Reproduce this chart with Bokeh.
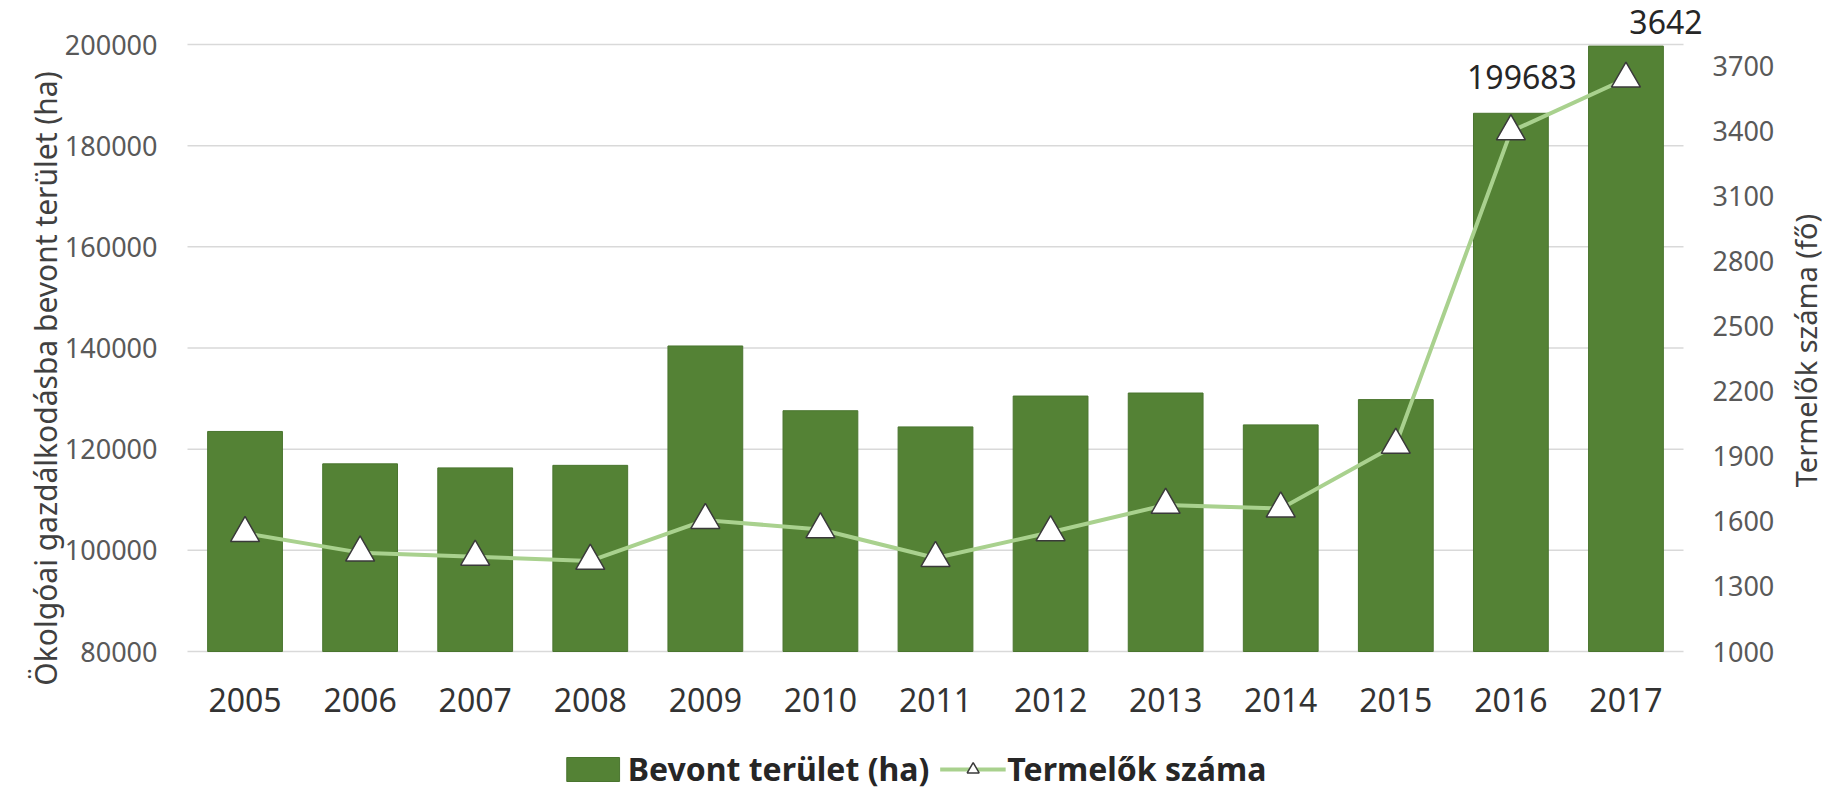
import math
from bokeh.plotting import figure
from bokeh.models import (ColumnDataSource, Range1d, LinearAxis, FixedTicker,
                          BasicTickFormatter, Legend, LegendItem, LabelSet, Label)
from bokeh.core.properties import value
from bokeh.embed import file_html
from bokeh.resources import INLINE

# ---- data ----
years = ["2005", "2006", "2007", "2008", "2009", "2010", "2011",
         "2012", "2013", "2014", "2015", "2016", "2017"]
area_ha = [123500, 117100, 116300, 116800, 140400, 127600, 124400,
           130500, 131100, 124800, 129800, 186400, 199683]
producers = [1546, 1456, 1437, 1418, 1606, 1563, 1431,
             1550, 1676, 1659, 1953, 3399, 3642]
left_ticks = [80000, 100000, 120000, 140000, 160000, 180000, 200000]
right_ticks = [1000, 1300, 1600, 1900, 2200, 2500, 2800, 3100, 3400, 3700]
left_axis_span = (80000, 200000)
right_axis_span = (1000, 3800)

left_title = "Ökolgóai gazdálkodásba bevont terület (ha)"
right_title = "Termelők száma (fő)"
bar_name = "Bevont terület (ha)"
line_name = "Termelők száma"

# ---- layout (page pixels; the canvas fills the page from its top-left) ----
W, H = 1826, 790
DATA_L, DATA_R, DATA_T, DATA_B = 187, 1683, 44, 651   # plotting area

n = len(years)
ux = (DATA_R - DATA_L) / n


def px_x(px):
    return -0.5 + (px - DATA_L) / ux


def px_y(py, span):
    lo, hi = span
    return lo + (DATA_B - py) * (hi - lo) / (DATA_B - DATA_T)


BAR = "#548235"
LINE = "#A9D18E"
FONT = "Noto Sans"

p = figure(title=None, width=W, height=H,
           x_range=Range1d(px_x(0), px_x(W)),
           y_range=Range1d(px_y(H, left_axis_span), px_y(0, left_axis_span)),
           output_backend="svg", toolbar_location=None,
           min_border=0, min_border_left=0, min_border_right=0,
           min_border_top=0, min_border_bottom=0)
p.extra_y_ranges = {"right": Range1d(px_y(H, right_axis_span),
                                     px_y(0, right_axis_span))}
p.outline_line_color = None
p.background_fill_color = "white"
p.xgrid.grid_line_color = None
p.ygrid.grid_line_color = None

idx = list(range(n))
src = ColumnDataSource(dict(i=idx, area=area_ha, prod=producers))

# horizontal gridlines across the plotting area only
p.segment(x0=-0.5, x1=n - 0.5, y0=left_ticks, y1=left_ticks,
          line_color="#D9D9D9", line_width=1.5, level="underlay")

bars = p.vbar(x="i", top="area", bottom=left_axis_span[0], width=0.65,
              source=src, fill_color=BAR, line_color="#4a752f", line_width=1)
line = p.line(x="i", y="prod", y_range_name="right", source=src,
              line_color=LINE, line_width=4)
pts = p.scatter(x="i", y="prod", y_range_name="right", source=src,
                marker="triangle", size=29, fill_color="white",
                line_color="#3a3a3a", line_width=1.5)

# leader line of the last producers label
r_per_px = (right_axis_span[1] - right_axis_span[0]) / (DATA_B - DATA_T)
lead = ColumnDataSource(dict(x0=idx[-1:], y0=producers[-1:],
                             x1=[idx[-1] + 37 / ux],
                             y1=[producers[-1] + 31 * r_per_px]))
p.segment(x0="x0", y0="y0", x1="x1", y1="y1", source=lead,
          line_color="#c9d9bd", line_width=1.2)

# left axis
yl = p.yaxis[0]
yl.ticker = FixedTicker(ticks=left_ticks)
yl.formatter = BasicTickFormatter(use_scientific=False)
yl.fixed_location = -0.5
yl.major_label_standoff = 24
yl.major_label_text_font = FONT
yl.major_label_text_font_size = "27px"
yl.major_label_text_color = "#595959"

# right axis
yr = LinearAxis(y_range_name="right", ticker=FixedTicker(ticks=right_ticks),
                formatter=BasicTickFormatter(use_scientific=False))
yr.fixed_location = n - 0.5
yr.major_label_standoff = 23
yr.major_label_text_font = FONT
yr.major_label_text_font_size = "27px"
yr.major_label_text_color = "#595959"
p.add_layout(yr, "right")

# x axis
xa = p.xaxis[0]
xa.ticker = FixedTicker(ticks=idx)
xa.major_label_overrides = {i: y for i, y in zip(idx, years)}
xa.fixed_location = left_axis_span[0]
xa.major_label_standoff = 30
xa.major_label_text_font = FONT
xa.major_label_text_font_size = "32px"
xa.major_label_text_color = "#333333"

for ax in (yl, yr, xa):
    ax.axis_line_color = None
    ax.major_tick_line_color = None
    ax.minor_tick_line_color = None

# axis titles
p.add_layout(Label(x=px_x(45), y=px_y(378, left_axis_span), text=left_title,
                   angle=math.pi / 2, text_align="center",
                   text_baseline="alphabetic", text_font=FONT,
                   text_font_size="30px", text_color="#404040"))
p.add_layout(Label(x=px_x(1805), y=px_y(350, left_axis_span), text=right_title,
                   angle=math.pi / 2, text_align="center",
                   text_baseline="alphabetic", text_font=FONT,
                   text_font_size="29px", text_color="#404040"))

# data labels
lab_bar = ColumnDataSource(dict(x=idx[-1:], y=area_ha[-1:],
                                t=[str(area_ha[-1])]))
lab_line = ColumnDataSource(dict(x=idx[-1:], y=producers[-1:],
                                 t=[str(producers[-1])]))
p.add_layout(LabelSet(x="x", y="y", text="t", source=lab_bar,
                      x_offset=-104, y_offset=-31,
                      text_align="center", text_baseline="middle",
                      text_font=value(FONT), text_font_size="32px",
                      text_color="#262626"))
p.add_layout(LabelSet(x="x", y="y", text="t", source=lab_line,
                      y_range_name="right",
                      x_offset=40, y_offset=57,
                      text_align="center", text_baseline="middle",
                      text_font=value(FONT), text_font_size="32px",
                      text_color="#262626"))

legend = Legend(items=[LegendItem(label=bar_name, renderers=[bars]),
                       LegendItem(label=line_name, renderers=[line, pts])],
                orientation="horizontal", location="bottom_center",
                glyph_width=66, glyph_height=30, label_standoff=2,
                spacing=10, padding=0, margin=0,
                border_line_color=None, background_fill_alpha=0,
                label_text_font=FONT, label_text_font_style="bold",
                label_text_font_size="32px", label_text_color="#262626",
                label_height=30)
p.add_layout(legend)

open("out.html", "w").write(file_html(p, INLINE))
